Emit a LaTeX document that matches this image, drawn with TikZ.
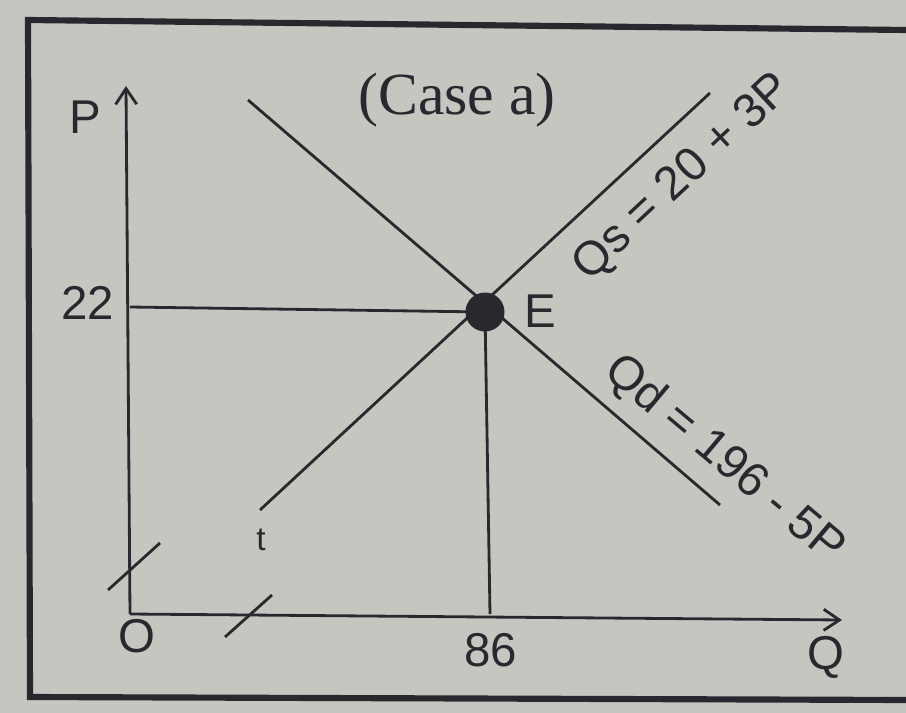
\documentclass[tikz,border=0pt]{standalone}
\usepackage{fontspec}
\setmainfont{Liberation Sans}
\newfontfamily\casefont{Liberation Serif}
\usetikzlibrary{arrows.meta}
\definecolor{paper}{RGB}{198,198,193}
\definecolor{ink}{RGB}{40,40,46}

\tikzset{
  curve/.style={draw=ink, line width=1.6pt},
  axis/.style={draw=ink, line width=1.6pt, -{Straight Barb[length=9pt,width=12pt]}},
  lbl/.style={text=ink, inner sep=1pt, font=\fontsize{27}{29}\selectfont},
}

\begin{document}
\begin{tikzpicture}[x=0.02cm, y=-0.02cm]
				\fill[paper] (0,0) rectangle (906,713);
				\useasboundingbox (0,0) rectangle (906,713);
				% frame of the page
				\draw[ink, line width=3.5pt] (906,30) -- (28,20) -- (30,697) -- (906,700);
				% axes
				\coordinate (O) at (130,614);
				\coordinate (Ptop) at (126,86);
				\coordinate (Qend) at (842,620);
				\draw[axis] (O) -- (Ptop);
				\draw[axis] (O) -- (Qend);
				% equilibrium
				\node[circle, fill=ink, minimum size=0.78cm, inner sep=0pt] (E) at (485,312) {};
				\coordinate (p22) at (130,307);
				\coordinate (q86) at (490,614);
				\draw[curve] (p22) -- (E.center);
				\draw[curve] (E.center) -- (q86);
				% demand and supply
				\coordinate (dtop) at (248,100);
				\coordinate (dbot) at (720,505);
				\coordinate (sbot) at (260,510);
				\coordinate (stop) at (710,93);
				\draw[curve] (dtop) -- (dbot);
				\draw[curve] (sbot) -- (stop);
				% axis breaks
				\coordinate (ybrA) at (108,590);
				\coordinate (ybrB) at (160,543);
				\coordinate (xbrA) at (225,637);
				\coordinate (xbrB) at (272,595);
				\draw[curve] (ybrA) -- (ybrB);
				\draw[curve] (xbrA) -- (xbrB);
				% labels
				\node[lbl] (lblP) at (85,117) {P};
				\node[lbl] (lblQ) at (826,657) {Q};
				\node[lbl] (lblO) at (137,636) {O};
				\node[lbl] (lbl22) at (88,303) {22};
				\node[lbl] (lbl86) at (491,650) {86};
				\node[lbl] (lblE) at (540,311) {E};
				\node[lbl, font=\fontsize{19}{19}\selectfont] (lblt) at (261,540) {t};
				\node[lbl, font=\casefont\fontsize{34}{36}\selectfont] (case) at (457,100) {(Case a)};
				\node[lbl, rotate=43] (lblQs) at (683,178) {Qs = 20 + 3P};
				\node[lbl, rotate=-40] (lblQd) at (724,460) {Qd = 196 - 5P};
			\end{tikzpicture}
\end{document}
